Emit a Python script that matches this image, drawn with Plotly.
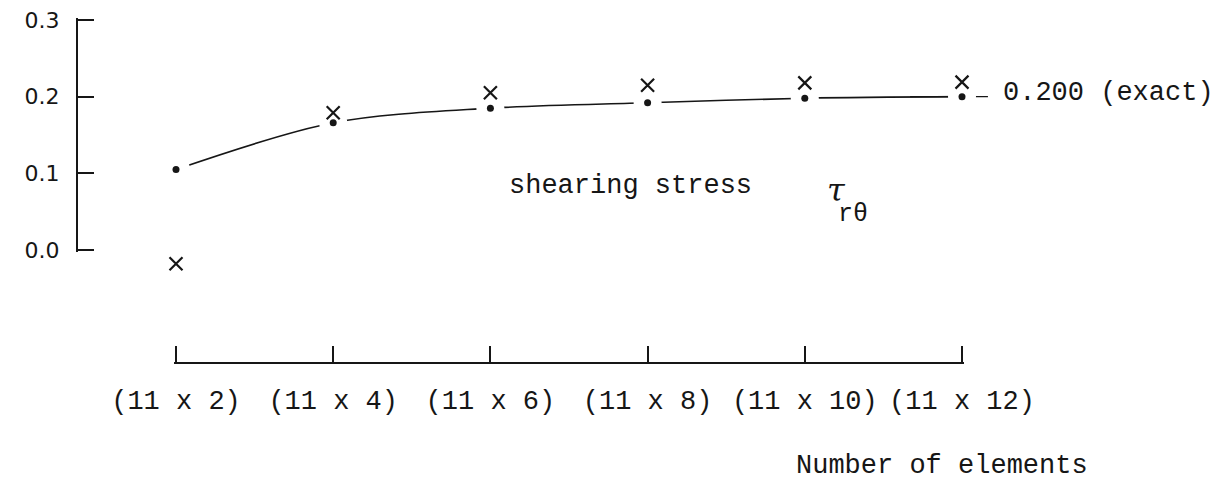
import plotly.graph_objects as go

# --- data -------------------------------------------------------------
mesh_labels = ["(11 x 2)", "(11 x 4)", "(11 x 6)", "(11 x 8)", "(11 x 10)", "(11 x 12)"]
mesh_index = [0, 1, 2, 3, 4, 5]
stress_dot = [0.105, 0.166, 0.185, 0.192, 0.198, 0.200]      # filled dots, joined by the curve
stress_cross = [-0.018, 0.179, 0.205, 0.215, 0.218, 0.219]   # "x" marks
exact_value = 0.200
exact_span = [4.67, 5.165]
y_tickvals = [0.0, 0.1, 0.2, 0.3]
y_ticktext = ["0.0", "0.1", "0.2", "0.3"]

# --- page geometry ----------------------------------------------------
W, H = 1232, 481
M_L, M_R, M_T, M_B = 77, 0, 18, 118
plot_w = W - M_L - M_R
plot_h = H - M_T - M_B
bottom_px = H - M_B                        # where the category axis is drawn
x_first_px, x_last_px = 176, 962           # first / last category tick
y_zero_px, y_top_px = 250, 20              # 0.0 and 0.3 on the stress axis
END = 2                                    # px of axis line beyond the end ticks

unit = (x_last_px - x_first_px) / (len(mesh_index) - 1)
x_lo = -(x_first_px - M_L) / unit
x_hi = x_lo + plot_w / unit
y_unit = (y_zero_px - y_top_px) / 0.3
y_lo = -(bottom_px - y_zero_px) / y_unit
y_hi = (y_zero_px - M_T) / y_unit

INK = "#161616"
TYPE = "Liberation Mono"


def paper(px, py):
    return (px - M_L) / plot_w, (bottom_px - py) / plot_h


fig = go.Figure()

# smooth curve through the dots
fig.add_trace(go.Scatter(
    x=mesh_index, y=stress_dot, mode="lines",
    line=dict(shape="spline", smoothing=0.9, color=INK, width=1.6),
    hoverinfo="skip"))

# exact solution
fig.add_trace(go.Scatter(
    x=exact_span, y=[exact_value, exact_value], mode="lines",
    line=dict(color=INK, width=1.4), hoverinfo="skip"))

# small breaks in the lines around each plotted point
fig.add_trace(go.Scatter(
    x=mesh_index, y=stress_dot, mode="markers",
    marker=dict(symbol="circle", size=28, color="white"), hoverinfo="skip"))

fig.add_trace(go.Scatter(
    x=mesh_index, y=stress_dot, mode="markers", cliponaxis=False,
    marker=dict(symbol="circle", size=7, color=INK)))

fig.add_trace(go.Scatter(
    x=mesh_index, y=stress_cross, mode="markers", cliponaxis=False,
    marker=dict(symbol="x-thin", size=13, line=dict(width=2.2, color=INK))))

# carriers for the two drawn axes
fig.add_trace(go.Scatter(
    x=mesh_index, y=stress_dot, xaxis="x2", yaxis="y", mode="markers",
    marker=dict(opacity=0), hoverinfo="skip"))
fig.add_trace(go.Scatter(
    x=mesh_index[:len(y_tickvals)], y=y_tickvals, xaxis="x", yaxis="y2", mode="markers",
    marker=dict(opacity=0), hoverinfo="skip"))

fig.update_layout(
    template="none",
    width=W, height=H,
    margin=dict(l=M_L, r=M_R, t=M_T, b=M_B, autoexpand=False),
    paper_bgcolor="white", plot_bgcolor="rgba(0,0,0,0)",
    showlegend=False,
    # data axes (hidden): span the whole plotting area
    xaxis=dict(domain=[0, 1], range=[x_lo, x_hi], visible=False, anchor="y",
               automargin=False),
    yaxis=dict(domain=[0, 1], range=[y_lo, y_hi], visible=False, anchor="x",
               automargin=False),
    # category axis, detached below the graph
    xaxis2=dict(
        domain=[(x_first_px - END - M_L) / plot_w, (x_last_px + END - M_L) / plot_w],
        range=[-END / unit, 5 + END / unit], anchor="free", position=0, automargin=False,
        showline=True, linewidth=1.6, linecolor=INK,
        ticks="inside", ticklen=16, tickwidth=1.6, tickcolor=INK,
        tickvals=mesh_index, ticktext=mesh_labels,
        tickfont=dict(family=TYPE, size=27, color=INK),
        ticklabelstandoff=13,
        showgrid=False, zeroline=False),
    # stress axis, from 0.0 to 0.3 only
    yaxis2=dict(
        domain=[(bottom_px - y_zero_px - END) / plot_h, (bottom_px - y_top_px + END) / plot_h],
        range=[-END / y_unit, 0.3 + END / y_unit], anchor="free", position=0,
        automargin=False,
        showline=True, linewidth=2, linecolor=INK,
        ticks="inside", ticklen=16, tickwidth=1.8, tickcolor=INK,
        tickvals=y_tickvals, ticktext=y_ticktext,
        tickfont=dict(family="DejaVu Sans", size=22, color=INK),
        ticklabelstandoff=12,
        showgrid=False, zeroline=False),
)

annotations = [
    dict(x=exact_span[1], y=exact_value, xref="x", yref="y",
         text="0.200 (exact)", xanchor="left", yanchor="middle",
         xshift=13, yshift=4, font=dict(family=TYPE, size=27, color=INK)),
]
sx, sy = paper(507, 186)
annotations.append(dict(x=sx, y=sy, xref="paper", yref="paper", text="shearing stress",
                        xanchor="left", yanchor="middle",
                        font=dict(family=TYPE, size=27, color=INK)))
tx, ty = paper(836, 190)
annotations.append(dict(x=tx, y=ty, xref="paper", yref="paper", text="τ",
                        xanchor="center", yanchor="middle",
                        font=dict(family="DejaVu Serif", size=32, color=INK, style="italic")))
rx, ry = paper(853, 214)
annotations.append(dict(x=rx, y=ry, xref="paper", yref="paper", text="rθ",
                        xanchor="center", yanchor="middle",
                        font=dict(family=TYPE, size=25, color=INK)))
nx, ny = paper(942, 466)
annotations.append(dict(x=nx, y=ny, xref="paper", yref="paper", text="Number of elements",
                        xanchor="center", yanchor="middle",
                        font=dict(family=TYPE, size=27, color=INK)))
for a in annotations:
    a["showarrow"] = False
fig.update_layout(annotations=annotations)

fig.write_html("out.html")
